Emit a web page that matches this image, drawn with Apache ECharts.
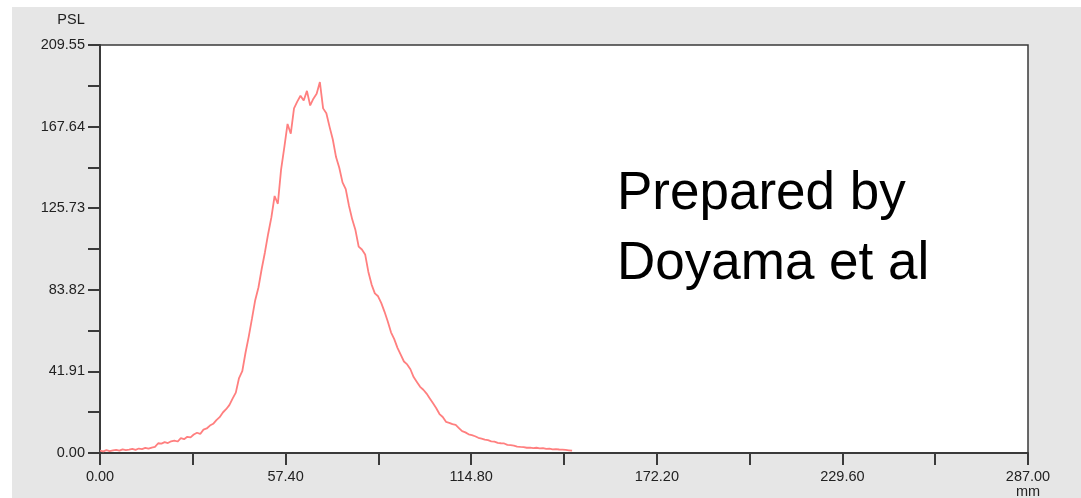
<!DOCTYPE html>
<html>
<head>
<meta charset="utf-8">
<script src="https://cdn.jsdelivr.net/npm/echarts@6/dist/echarts.min.js"></script>
<style>
  html, body { margin: 0; padding: 0; background: #ffffff; }
  #chart { width: 1081px; height: 498px; }
</style>
</head>
<body>
<div id="chart"></div>
<script>
// ---- data ----
const STEP_MM = 1; // sampling step along the x axis (mm)
const PSL_VALUES = [
  1.2, 0.8, 1.5, 1.0, 1.3, 1.6, 1.2, 1.9, 1.5, 1.7,
  2.1, 1.6, 2.3, 2.0, 2.6, 2.2, 2.8, 3.1, 5.0, 4.8,
  5.6, 5.1, 6.0, 6.4, 5.9, 7.6, 7.1, 8.3, 8.0, 9.5,
  10.4, 9.8, 12.0, 12.6, 14.1, 15.0, 16.9, 18.4, 20.8, 22.5,
  24.6, 27.9, 31.0, 38.5, 42.0, 51.5, 59.8, 69.0, 78.5, 85.0,
  94.5, 103.0, 112.5, 121.0, 132.0, 128.0, 145.5, 157.0, 169.0, 164.0,
  177.0, 180.5, 183.5, 181.0, 186.0, 178.5, 182.0, 184.5, 190.5, 177.0,
  174.5, 167.5, 161.0, 152.0, 146.5, 139.0, 135.5, 127.0, 120.0, 114.5,
  106.0, 104.5, 102.0, 93.0, 86.5, 82.0, 80.5, 77.0, 72.5, 67.5,
  62.0, 58.5, 54.0, 50.5, 47.0, 45.5, 43.0, 39.0, 36.5, 34.0,
  32.5, 30.5, 28.0, 25.5, 23.0, 20.0, 18.5, 16.0, 15.5, 14.8,
  14.4, 12.8, 11.2, 10.6, 9.6, 9.2, 8.6, 7.8, 7.4, 6.9,
  6.6, 6.0, 5.8, 5.2, 5.0, 4.9, 4.2, 4.0, 3.8, 3.3,
  3.1, 3.0, 2.7, 2.8, 2.5, 2.7, 2.4, 2.5, 2.1, 2.2,
  1.9, 2.0, 1.8, 1.7, 1.6, 1.4, 1.2
];
const Y_TICK_LABELS = ['0.00', '41.91', '83.82', '125.73', '167.64', '209.55'];
const X_TICK_LABELS = ['0.00', '57.40', '114.80', '172.20', '229.60', '287.00'];
const Y_MAX = 209.55, Y_MINOR = 20.955;
const X_MAX = 287, X_MINOR = 28.7;
const Y_NAME = 'PSL', X_NAME = 'mm';
const NOTE_LINES = ['Prepared by', 'Doyama et al'];

const seriesData = PSL_VALUES.map((v, i) => [i * STEP_MM, v]);

const FONT = '"Liberation Sans", Arial, sans-serif';
const chart = echarts.init(document.getElementById('chart'), null, { renderer: 'canvas' });

chart.setOption({
  backgroundColor: '#ffffff',
  animation: false,
  graphic: [
    { type: 'rect', z: -10, silent: true, shape: { x: 12, y: 7, width: 1081 - 12, height: 498 - 7 }, style: { fill: '#e6e6e6' } },
    { type: 'text', z: 10, style: { text: Y_NAME, x: 71, y: 20, align: 'center', verticalAlign: 'middle', font: '14.5px ' + FONT, fill: '#222' } },
    { type: 'text', z: 10, style: { text: X_NAME, x: 1028, y: 492, align: 'center', verticalAlign: 'middle', font: '14.5px ' + FONT, fill: '#222' } },
    { type: 'text', z: 10, style: { text: NOTE_LINES[0], x: 617, y: 194, align: 'left', verticalAlign: 'middle', font: '53px ' + FONT, fill: '#000' } },
    { type: 'text', z: 10, style: { text: NOTE_LINES[1], x: 617, y: 264, align: 'left', verticalAlign: 'middle', font: '53px ' + FONT, fill: '#000' } }
  ],
  grid: {
    left: 100, top: 45, right: 53, bottom: 45,
    show: true, backgroundColor: '#ffffff', borderColor: '#3a3a3a', borderWidth: 1.5
  },
  xAxis: {
    type: 'value', min: 0, max: X_MAX, interval: X_MINOR,
    axisLine: { show: true, onZero: false, lineStyle: { color: '#3a3a3a', width: 2 } },
    axisTick: { show: true, inside: false, length: 12, lineStyle: { color: '#3a3a3a', width: 2 } },
    splitLine: { show: false },
    axisLabel: {
      margin: 16, color: '#222', fontSize: 14.5, fontFamily: FONT, showMaxLabel: true, showMinLabel: true,
      formatter: v => { const k = Math.round(v / X_MINOR); return k % 2 === 0 ? X_TICK_LABELS[k / 2] : ''; }
    }
  },
  yAxis: {
    type: 'value', min: 0, max: Y_MAX, interval: Y_MINOR,
    axisLine: { show: true, lineStyle: { color: '#3a3a3a', width: 2 } },
    axisTick: { show: true, inside: false, length: 12, lineStyle: { color: '#3a3a3a', width: 2 } },
    splitLine: { show: false },
    axisLabel: {
      margin: 15, color: '#222', fontSize: 14.5, fontFamily: FONT, showMaxLabel: true, showMinLabel: true,
      formatter: v => { const k = Math.round(v / Y_MINOR); return k % 2 === 0 ? Y_TICK_LABELS[k / 2] : ''; }
    }
  },
  series: [{
    type: 'line',
    data: seriesData,
    showSymbol: false,
    symbol: 'none',
    smooth: false,
    lineStyle: { color: '#ff7f7f', width: 1.8 },
    silent: true
  }]
});
</script>
</body>
</html>
